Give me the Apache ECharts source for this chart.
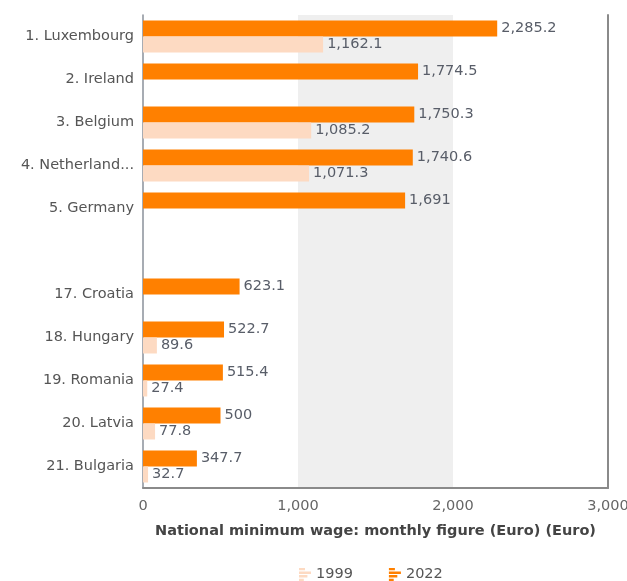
<!DOCTYPE html>
<html>
<head>
<meta charset="utf-8">
<script src="https://cdn.jsdelivr.net/npm/echarts@6/dist/echarts.min.js"></script>
<style>
  html, body { margin: 0; padding: 0; background: #fff; }
  #chart { width: 627px; height: 581px; }
</style>
</head>
<body>
<div id="chart"></div>
<script>
// Countries ranked by monthly minimum wage; the empty entry separates top and bottom groups
const countries = ['1. Luxembourg', '2. Ireland', '3. Belgium', '4. Netherlands', '5. Germany', '',
  '17. Croatia', '18. Hungary', '19. Romania', '20. Latvia', '21. Bulgaria'];
const wage1999 = [1162.1, null, 1085.2, 1071.3, null, null, null, 89.6, 27.4, 77.8, 32.7];
const wage2022 = [2285.2, 1774.5, 1750.3, 1740.6, 1691, null, 623.1, 522.7, 515.4, 500, 347.7];
const xTicks = [0, 1000, 2000, 3000];

const fmt = v => Number(v).toLocaleString('en-US', { maximumFractionDigits: 1 });
const shorten = s => (s.length > 13 ? s.slice(0, 13) + '...' : s);
const FONT = 'DejaVu Sans';
const SIZE = 14.5;
const barIcon = 'path://M0,0H5V2H0Z M0,3H10V5H0Z M0,6H7V8H0Z M0,9H4V11H0Z';

const chart = echarts.init(document.getElementById('chart'));
chart.setOption({
  animation: false,
  textStyle: { fontFamily: FONT },
  grid: { left: 143, right: 19, top: 15, bottom: 93, outerBoundsMode: 'none', containLabel: false },
  legend: {
    data: ['1999', '2022'],
    top: 562,
    left: 294,
    icon: barIcon,
    itemWidth: 12,
    itemHeight: 14,
    itemGap: 36,
    textStyle: { color: '#555', fontSize: SIZE, fontFamily: FONT }
  },
  xAxis: {
    type: 'value',
    min: xTicks[0],
    max: xTicks[xTicks.length - 1],
    interval: 1000,
    name: 'National minimum wage: monthly figure (Euro) (Euro)',
    nameLocation: 'middle',
    nameGap: 36,
    nameTextStyle: { color: '#444', fontSize: SIZE, fontWeight: 'bold', fontFamily: FONT },
    axisLine: { show: true, lineStyle: { color: '#8a8a8a', width: 2 } },
    axisTick: { show: false },
    axisLabel: { color: '#666', fontSize: SIZE, margin: 11, formatter: v => fmt(v) },
    splitLine: { show: false },
    splitArea: { show: true, areaStyle: { color: ['rgba(255,255,255,0)', '#efefef'] } }
  },
  yAxis: [{
    type: 'category',
    data: countries,
    inverse: true,
    axisLine: { show: true, lineStyle: { color: '#8a909a', width: 1.5 } },
    axisTick: { show: false },
    axisLabel: { color: '#555', fontSize: SIZE, margin: 9, formatter: shorten }
  }, {
    type: 'category',
    data: countries,
    inverse: true,
    position: 'right',
    axisLine: { show: true, lineStyle: { color: '#8a8a8a', width: 2 } },
    axisTick: { show: false },
    axisLabel: { show: false }
  }],
  series: [{
    name: '2022',
    type: 'bar',
    data: wage2022,
    barWidth: 16,
    barGap: '0%',
    itemStyle: { color: '#ff8000' },
    label: { show: true, position: 'right', distance: 4, color: '#585d68', fontSize: SIZE, formatter: p => fmt(p.value) }
  }, {
    name: '1999',
    type: 'bar',
    data: wage1999,
    barWidth: 16,
    barGap: '0%',
    itemStyle: { color: '#fddac2' },
    label: { show: true, position: 'right', distance: 4, color: '#585d68', fontSize: SIZE, formatter: p => fmt(p.value) }
  }]
});
</script>
</body>
</html>
